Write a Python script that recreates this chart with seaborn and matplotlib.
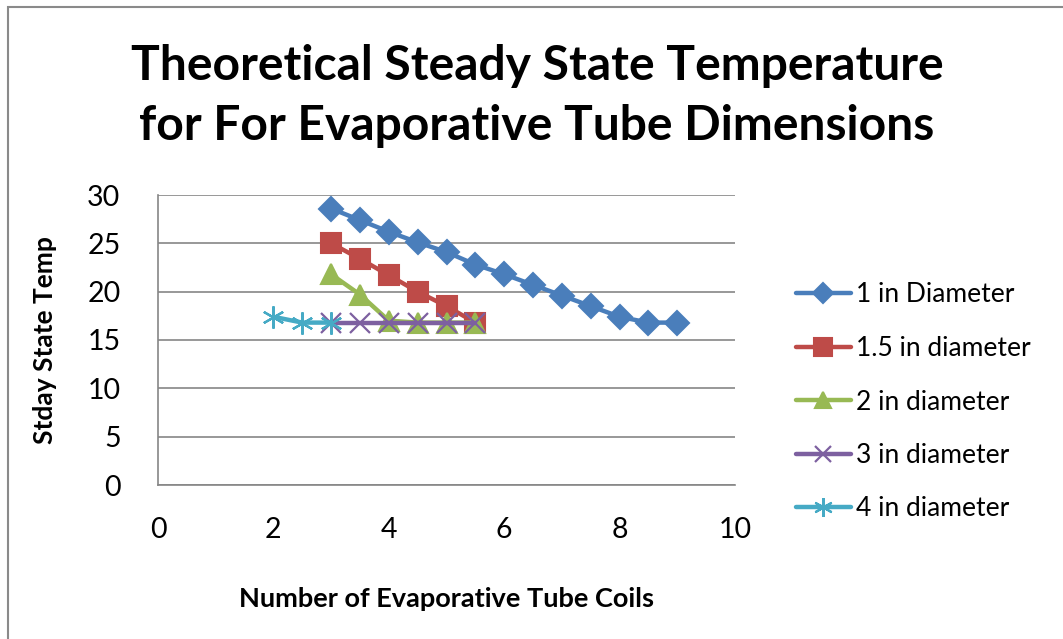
import numpy as np
import pandas as pd
import matplotlib
matplotlib.use("Agg")
import matplotlib.pyplot as plt
import seaborn as sns
from matplotlib.lines import Line2D

# ---- data ----
x_1in = [3, 3.5, 4, 4.5, 5, 5.5, 6, 6.5, 7, 7.5, 8, 8.5, 9]
y_1in = [28.6, 27.4, 26.2, 25.1, 24.1, 22.8, 21.8, 20.7, 19.6, 18.5, 17.4, 16.8, 16.8]
x_15in = [3, 3.5, 4, 4.5, 5, 5.5]
y_15in = [25.0, 23.4, 21.7, 20.0, 18.5, 16.8]
x_2in = [3, 3.5, 4, 4.5, 5, 5.5]
y_2in = [21.8, 19.7, 17.0, 16.8, 16.8, 16.8]
x_3in = [3, 3.5, 4, 4.5, 5, 5.5]
y_3in = [16.8, 16.8, 16.8, 16.8, 16.8, 16.8]
x_4in = [2, 2.5, 3]
y_4in = [17.4, 16.8, 16.8]

series_names = ["1 in Diameter", "1.5 in diameter", "2 in diameter", "3 in diameter", "4 in diameter"]
title = "Theoretical Steady State Temperature\nfor For Evaporative Tube Dimensions"
xlabel = "Number of Evaporative Tube Coils"
ylabel = "Stday State Temp"
xticks = [0, 2, 4, 6, 8, 10]
yticks = [0, 5, 10, 15, 20, 25, 30]

sns.set_theme(style="white")
plt.rcParams['font.family'] = ['Lato', 'DejaVu Sans']
plt.rcParams['text.color'] = 'black'
plt.rcParams['axes.labelcolor'] = 'black'

fig = plt.figure(figsize=(10.63, 6.39), dpi=100)
ax = fig.add_axes([158/1063, 1-485/639, (735-158)/1063, (485-195)/639])

colors = ["#4A7EBB", "#BE4B48", "#98B954", "#7D60A0", "#46AAC5"]
markers = ["D", "s", "^", "x", (6, 2, 0)]
msizes = [12, 15, 14, 14, 16]
xs = [x_1in, x_15in, x_2in, x_3in, x_4in]
ys = [y_1in, y_15in, y_2in, y_3in, y_4in]

handles = []
for i, (xv, yv) in enumerate(zip(xs, ys)):
    df = pd.DataFrame({"x": xv, "y": yv})
    filled = markers[i] in ("D", "s", "^")
    kw = dict(markerfacecolor=colors[i], markeredgecolor=colors[i], markeredgewidth=1.5 if filled else 1.6)
    sns.lineplot(data=df, x="x", y="y", ax=ax, color=colors[i], linewidth=3.2,
                 marker=markers[i], markersize=msizes[i], zorder=3 + i, **kw)
    handles.append(Line2D([0], [0], color=colors[i], linewidth=3.2, marker=markers[i],
                          markersize=msizes[i] * 0.85, **kw))

ax.set_xlim(0, 10)
ax.set_ylim(0, 30)
ax.set_xticks(xticks)
ax.set_yticks(yticks)
ax.grid(axis="y", color="#868686", linewidth=1.2)
ax.grid(axis="x", visible=False)
for side in ["top", "right"]:
    ax.spines[side].set_visible(False)
for side in ["left", "bottom"]:
    ax.spines[side].set_color("#868686")
    ax.spines[side].set_linewidth(1.2)
ax.tick_params(axis="both", which="major", length=5, width=1.2, color="#868686",
               labelsize=20.5, labelcolor="black", direction="out")
ax.tick_params(axis="y", pad=22)
ax.tick_params(axis="x", pad=18)
ax.set_xlabel(xlabel, fontsize=19.5, fontweight="bold", labelpad=32, color="black")
ax.set_ylabel(ylabel, fontsize=19, fontweight="bold", labelpad=22, color="black")

fig.text(537/1063, 1-96/639, title, ha="center", va="center", fontsize=34.6,
         fontweight="bold", linespacing=1.45, color="black")

fig.legend(handles, series_names, loc="center left", bbox_to_anchor=(772/1063, 1-402/639),
           frameon=False, fontsize=19, handlelength=2.1, handletextpad=0.2, labelspacing=1.08)

# chart area border (top and left visible)
fig.add_artist(plt.Rectangle((8/1063, -0.1), 1.2, 1 - 7/639 + 0.1, transform=fig.transFigure,
                             fill=False, edgecolor="#8a8a8a", linewidth=1.5))

fig.savefig("out.png", dpi=100)
